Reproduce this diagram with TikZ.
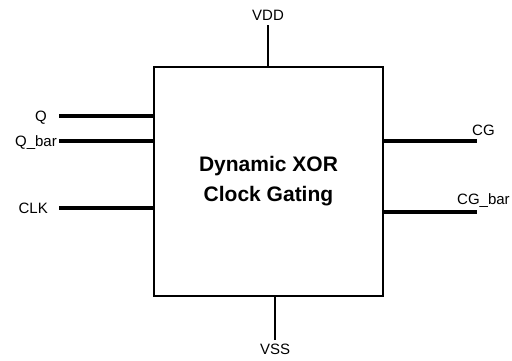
\documentclass[tikz,border=0pt]{standalone}
\usepackage{fontspec}
\setmainfont{Liberation Sans}
\usetikzlibrary{positioning}
\tikzset{
  chip/.style = {draw, line width=2pt, minimum width=229pt, minimum height=229pt,
                 inner sep=0pt, align=center, font=\fontsize{21}{30}\selectfont\bfseries},
  pin/.style  = {line width=3.2pt},
  rail/.style = {line width=2.6pt},
  lbl/.style  = {inner sep=0pt, font=\fontsize{15}{17}\selectfont},
}
\begin{document}
\begin{tikzpicture}[x=1pt,y=-1pt]
  \useasboundingbox (0,0) rectangle (512,360);
  \node[chip] (ic) at (268.5,181.5) {Dynamic XOR\\Clock Gating};
  % inputs
  \coordinate (q)    at (59,116);
  \coordinate (qbar) at (59,141);
  \coordinate (clk)  at (59,208);
  \draw[pin] (q) -- (q -| ic.west);
  \draw[pin] (qbar) -- (qbar -| ic.west);
  \draw[pin] (clk) -- (clk -| ic.west);
  \node[lbl, anchor=base east] (qlbl)    at (47,121) {Q};
  \node[lbl, anchor=base east] (qbarlbl) at (57,146) {Q\_bar};
  \node[lbl, anchor=base east] (clklbl)  at (48,213) {CLK};
  % outputs
  \coordinate (cg)    at (477,141);
  \coordinate (cgbar) at (477,212);
  \draw[pin] (cg -| ic.east) -- (cg);
  \draw[pin] (cgbar -| ic.east) -- (cgbar);
  \node[lbl, anchor=base west] (cglbl)    at (472,135) {CG};
  \node[lbl, anchor=base west] (cgbarlbl) at (457,204) {CG\_bar};
  % supplies
  \coordinate (vdd) at (268,25);
  \coordinate (vss) at (275,340);
  \draw[rail] (vdd) -- (vdd |- ic.north);
  \draw[rail] (vss |- ic.south) -- (vss);
  \node[lbl, anchor=base west] (vddlbl) at (252,20) {VDD};
  \node[lbl, anchor=base west] (vsslbl) at (260,354) {VSS};
\end{tikzpicture}
\end{document}
